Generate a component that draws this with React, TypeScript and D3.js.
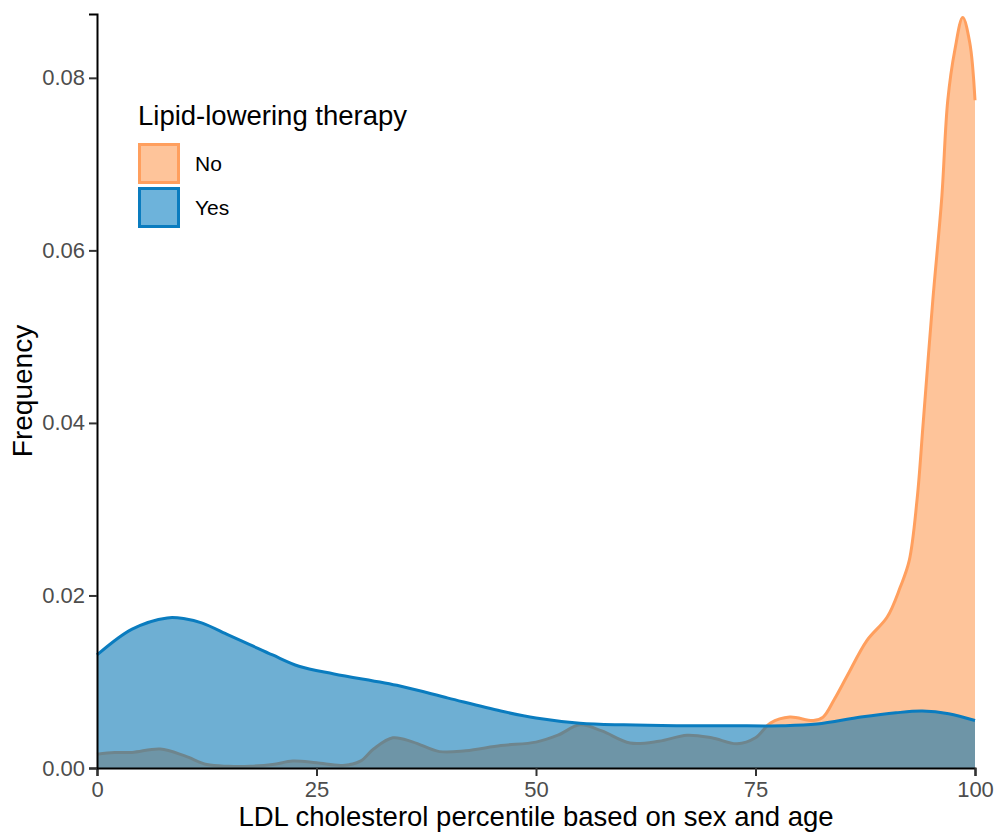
import * as d3 from "d3";
import { useRef, useEffect } from "react";

// density of LDL percentile
const yesX = [0, 4, 8, 10, 12, 15, 17.4, 20, 23, 27, 34.5, 40, 46, 50, 55, 60, 66, 72, 78, 82, 87, 91, 94, 97, 100];
const yesY = [0.0131, 0.0161, 0.0174, 0.0173, 0.0168, 0.0154, 0.0143, 0.0131, 0.0118, 0.0109, 0.0095, 0.0081,
  0.0066, 0.0058, 0.0052, 0.0050, 0.0049, 0.0049, 0.0049, 0.0051, 0.0059, 0.0064, 0.0066, 0.0063, 0.0055];

const noX = [0, 2, 4, 7.2, 10, 12.5, 15, 17.4, 20, 22.3, 25, 28, 30, 31.5, 33.7, 36, 39, 42, 46, 50, 52.5, 55,
  57.5, 60.7, 64, 67.2, 70, 72.9, 75, 76.7, 78.9, 81.6, 82.7, 84, 85.4, 87.7, 90, 91.5, 92.5, 93.4, 94.1, 95.2,
  96.2, 96.9, 97.7, 98.6, 99.4, 100];
const noY = [0.0016, 0.0018, 0.0018, 0.0022, 0.0014, 0.0004, 0.0002, 0.0002, 0.0004, 0.0008, 0.0006, 0.0003,
  0.0008, 0.0022, 0.0035, 0.0030, 0.0019, 0.0020, 0.0026, 0.0030, 0.0038, 0.0050, 0.0043, 0.0029, 0.0031, 0.0038,
  0.0035, 0.0028, 0.0035, 0.0052, 0.0059, 0.0055, 0.0059, 0.0080, 0.0106, 0.0148, 0.0175, 0.0210, 0.0240, 0.0311,
  0.0400, 0.0543, 0.0659, 0.0774, 0.0832, 0.0870, 0.0841, 0.0774];

const xTicks = [0, 25, 50, 75, 100];
const yTicks = [0, 0.02, 0.04, 0.06, 0.08];
const groups = ["No", "Yes"];

const FONT = "Liberation Sans, Arial, sans-serif";

const App = () => {
  const chartRef = useRef(null);

  const width = 995;
  const height = 832;
  const margin = { top: 14, bottom: 64, left: 97, right: 20 };

  useEffect(() => {
    const svg = d3.select(chartRef.current);
    svg.selectAll("*").remove();

    const scaleX = d3.scaleLinear().domain([0, 100]).range([margin.left, width - margin.right]);
    const scaleY = d3.scaleLinear().domain([0, 0.0874]).range([height - margin.bottom, margin.top]);

    const curve = d3.curveCatmullRom.alpha(0.5);
    const area = d3.area<number[]>()
      .x(d => scaleX(d[0]))
      .y0(scaleY(0))
      .y1(d => Math.min(scaleY(d[1]), scaleY(0)))
      .curve(curve);
    const line = d3.line<number[]>()
      .x(d => scaleX(d[0]))
      .y(d => scaleY(d[1]))
      .curve(curve);

    const noData = noX.map((x, i) => [x, noY[i]]);
    const yesData = yesX.map((x, i) => [x, yesY[i]]);

    // No first, Yes drawn over it with transparency
    svg.append("path").datum(noData).attr("d", area).attr("fill", "#fec49a");
    svg.append("path").datum(noData).attr("d", line)
      .attr("fill", "none").attr("stroke", "#ff9f5e").attr("stroke-width", 3);

    svg.append("path").datum(yesData).attr("d", area)
      .attr("fill", "#0072b2").attr("fill-opacity", 0.57);
    svg.append("path").datum(yesData).attr("d", line)
      .attr("fill", "none").attr("stroke", "#0a7cbf").attr("stroke-width", 3);

    // axes
    const xAxis = d3.axisBottom(scaleX).tickValues(xTicks).tickSize(8).tickPadding(5).tickFormat(d3.format("d"));
    const gx = svg.append("g")
      .attr("transform", `translate(0, ${height - margin.bottom})`)
      .call(xAxis);
    gx.select(".domain").attr("stroke", "#000").attr("stroke-width", 2);
    gx.selectAll(".tick line").attr("stroke", "#333").attr("stroke-width", 2);
    gx.selectAll(".tick text").attr("fill", "#4d4d4d").style("font-size", "22px").style("font-family", FONT);

    const yAxis = d3.axisLeft(scaleY).tickValues(yTicks).tickSize(8).tickPadding(4).tickFormat(d3.format(".2f"));
    const gy = svg.append("g")
      .attr("transform", `translate(${margin.left}, 0)`)
      .call(yAxis);
    gy.select(".domain").attr("stroke", "#000").attr("stroke-width", 2);
    gy.selectAll(".tick line").attr("stroke", "#333").attr("stroke-width", 2);
    gy.selectAll(".tick text").attr("fill", "#4d4d4d").style("font-size", "22px").style("font-family", FONT);

    // axis titles
    svg.append("text")
      .attr("x", (margin.left + width - margin.right) / 2)
      .attr("y", 826)
      .attr("text-anchor", "middle")
      .style("font-family", FONT).style("font-size", "27.5px")
      .text("LDL cholesterol percentile based on sex and age");

    svg.append("text")
      .attr("transform", `translate(32, ${(margin.top + height - margin.bottom) / 2}) rotate(-90)`)
      .attr("text-anchor", "middle")
      .style("font-family", FONT).style("font-size", "28px")
      .text("Frequency");

    // legend
    const legend = svg.append("g").attr("transform", "translate(138, 0)");
    legend.append("text")
      .attr("x", 0).attr("y", 125)
      .style("font-family", FONT).style("font-size", "27.5px")
      .text("Lipid-lowering therapy");

    const keyFill = ["#fec49a", "#6db3db"];
    const keyStroke = ["#ff9f5e", "#0a7cbf"];
    groups.forEach((g, i) => {
      const top = 143 + i * 44;
      legend.append("rect")
        .attr("x", 1.5).attr("y", top + 1.5)
        .attr("width", 39).attr("height", 38)
        .attr("fill", keyFill[i]).attr("stroke", keyStroke[i]).attr("stroke-width", 3);
      legend.append("text")
        .attr("x", 57).attr("y", top + 28)
        .style("font-family", FONT).style("font-size", "21px")
        .text(g);
    });
  }, []);

  return (
    <svg ref={chartRef} width={width} height={height} style={{ position: "absolute", left: 0, top: 0 }}></svg>
  );
};

export default App;
